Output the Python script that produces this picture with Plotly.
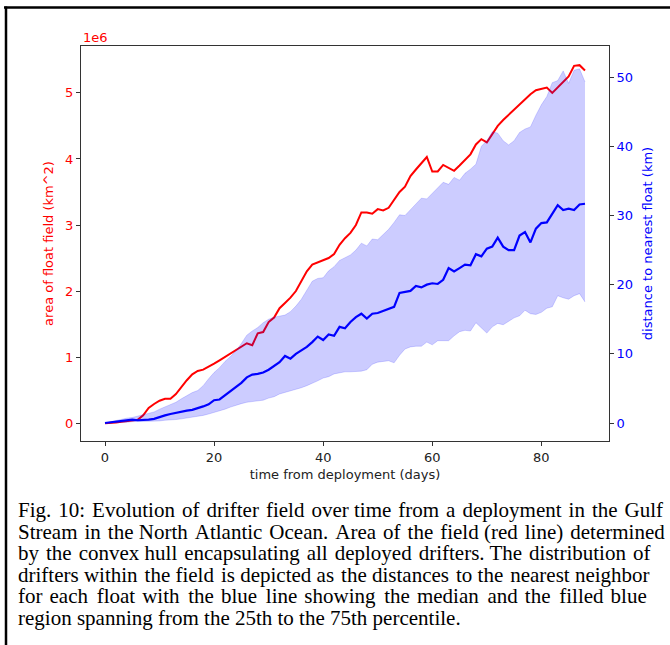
import plotly.graph_objects as go

# ---------------- data ----------------
days = list(range(0, 89))

area_1e6 = [0.00, 0.00, 0.01, 0.02, 0.03, 0.04, 0.05, 0.12, 0.23, 0.29,
            0.34, 0.37, 0.37, 0.44, 0.55, 0.65, 0.74, 0.79, 0.81, 0.85,
            0.90, 0.95, 1.00, 1.06, 1.10, 1.15, 1.21, 1.18, 1.36, 1.38,
            1.53, 1.60, 1.74, 1.82, 1.90, 2.00, 2.15, 2.30, 2.40, 2.43,
            2.46, 2.50, 2.56, 2.70, 2.80, 2.88, 3.00, 3.19, 3.19, 3.17,
            3.24, 3.22, 3.26, 3.38, 3.50, 3.58, 3.74, 3.84, 3.94, 4.03,
            3.81, 3.81, 3.91, 3.87, 3.82, 3.90, 3.98, 4.07, 4.22, 4.30,
            4.25, 4.38, 4.50, 4.59, 4.67, 4.75, 4.82, 4.90, 4.98, 5.04,
            5.06, 5.08, 5.00, 5.08, 5.16, 5.25, 5.41, 5.42, 5.34]

dist_median = [0.0, 0.1, 0.2, 0.3, 0.4, 0.5, 0.4, 0.4, 0.5, 0.6,
               0.9, 1.1, 1.3, 1.5, 1.7, 1.8, 1.9, 2.1, 2.4, 2.7,
               3.3, 3.4, 4.0, 4.5, 5.1, 5.8, 6.6, 7.0, 7.1, 7.3,
               7.7, 8.2, 8.8, 9.7, 9.3, 10.0, 10.5, 11.0, 11.7, 12.5,
               12.0, 12.8, 12.6, 13.9, 13.7, 14.6, 15.3, 15.8, 15.1, 15.8,
               15.9, 16.2, 16.5, 16.8, 18.8, 18.9, 19.1, 19.8, 19.6, 20.0,
               20.2, 20.1, 20.7, 22.4, 21.9, 22.4, 22.9, 22.8, 24.4, 24.1,
               25.2, 25.5, 26.8, 25.5, 25.0, 25.0, 27.1, 27.6, 26.1, 28.1,
               28.9, 29.0, 30.3, 31.5, 30.8, 31.0, 30.8, 31.6, 31.7]

dist_p75 = [0.0, 0.2, 0.4, 0.5, 0.7, 0.8, 1.0, 1.1, 1.3, 1.6,
            2.0, 2.3, 2.7, 3.0, 3.5, 4.0, 4.4, 4.7, 5.4, 6.4,
            7.3, 8.0, 8.9, 9.6, 10.4, 11.5, 12.7, 13.3, 13.8, 14.5,
            15.0, 15.3, 15.5, 15.6, 16.1, 16.9, 17.9, 19.3, 20.5, 20.9,
            21.0, 22.0, 22.6, 23.5, 23.9, 24.3, 25.0, 26.0, 25.6, 26.6,
            26.5, 27.2, 28.0, 29.0, 30.1, 30.0, 30.8, 31.7, 32.5, 32.4,
            33.2, 33.9, 34.8, 34.5, 35.5, 35.1, 36.1, 36.7, 37.4, 40.0,
            40.8, 42.1, 41.9, 40.8, 40.2, 40.8, 42.0, 42.5, 42.8, 44.5,
            46.0, 47.2, 49.2, 49.5, 50.9, 49.1, 51.0, 51.2, 49.3]

dist_p25 = [0.0, 0.0, 0.1, 0.1, 0.1, 0.2, 0.2, 0.2, 0.3, 0.3,
            0.3, 0.4, 0.4, 0.5, 0.6, 0.7, 0.8, 0.9, 1.1, 1.3,
            1.5, 1.8, 2.0, 2.3, 2.6, 2.8, 3.0, 3.1, 3.2, 3.3,
            3.6, 3.8, 4.2, 4.4, 4.7, 4.9, 5.1, 5.4, 5.7, 6.1,
            6.5, 6.7, 7.1, 7.3, 7.4, 7.4, 7.4, 7.5, 7.7, 8.5,
            8.8, 8.9, 9.0, 8.7, 9.8, 10.7, 11.0, 11.1, 11.1, 11.7,
            11.3, 11.9, 11.9, 11.9, 12.6, 13.2, 13.4, 13.3, 14.5, 13.8,
            13.0, 13.9, 14.4, 14.2, 14.7, 15.2, 15.5, 16.3, 15.8, 15.7,
            16.0, 16.6, 16.8, 18.4, 18.1, 17.9, 18.4, 18.7, 17.5]

x_ticks = [0, 20, 40, 60, 80]
left_ticks = [0, 1, 2, 3, 4, 5]
right_ticks = [0, 10, 20, 30, 40, 50]

caption_lines = [
    "Fig. 10: Evolution of drifter field over time from a deployment in the Gulf",
    "Stream in the North Atlantic Ocean. Area of the field (red line) determined",
    "by the convex hull encapsulating all deployed drifters. The distribution of",
    "drifters within the field is depicted as the distances to the nearest neighbor",
    "for each float with the blue line showing the median and the filled blue",
    "region spanning from the 25th to the 75th percentile.",
]
# extra hair spaces used to approximate the justified paragraph
caption_pad = [12, 10, 8, 5, 19, 0]

# ---------------- layout geometry ----------------
W, H = 670, 645
L, R, T, B = 81, 61, 46, 204
PW, PH = W - L - R, H - T - B


def px(xp):
    return (xp - L) / PW


def py(yp):
    return (H - B - yp) / PH


def justify(line, n_extra):
    words = line.split(" ")
    gaps = len(words) - 1
    if gaps <= 0 or n_extra <= 0:
        return line
    out = words[0]
    given = 0
    for i in range(1, len(words)):
        target = round(n_extra * i / gaps)
        k = target - given
        given = target
        out += " " + "\u200a" * k + words[i]
    return out


RED = "#ff0000"
BLUE = "#0000ff"
AX = "#333333"

fig = go.Figure()

fig.add_trace(go.Scatter(x=days, y=area_1e6, mode="lines",
                         line=dict(color=RED, width=2), yaxis="y",
                         showlegend=False, hoverinfo="skip"))

fig.add_trace(go.Scatter(x=days, y=dist_p25, mode="lines",
                         line=dict(color="rgba(0,0,255,0.2)", width=0.8),
                         yaxis="y2", showlegend=False, hoverinfo="skip"))
fig.add_trace(go.Scatter(x=days, y=dist_p75, mode="lines",
                         line=dict(color="rgba(0,0,255,0.2)", width=0.8),
                         fill="tonexty", fillcolor="rgba(0,0,255,0.2)",
                         yaxis="y2", showlegend=False, hoverinfo="skip"))
fig.add_trace(go.Scatter(x=days, y=dist_median, mode="lines",
                         line=dict(color=BLUE, width=2.2), yaxis="y2",
                         showlegend=False, hoverinfo="skip"))

tickfont = dict(family="DejaVu Sans", size=13)

fig.update_layout(
    width=W, height=H,
    margin=dict(l=L, r=R, t=T, b=B, pad=0),
    paper_bgcolor="white", plot_bgcolor="white",
    showlegend=False,
    xaxis=dict(range=[-4.4, 92.4], tickvals=x_ticks, ticks="outside",
               ticklen=4, tickcolor=AX, showline=True, linecolor=AX,
               linewidth=1, mirror=True, showgrid=False, zeroline=False,
               tickfont=dict(tickfont, color="#222222"),
               title=dict(text="time from deployment (days)",
                          font=dict(family="DejaVu Sans", size=13,
                                    color="#222222"), standoff=6)),
    yaxis=dict(range=[-0.27, 5.71], tickvals=left_ticks, ticks="outside",
               ticklen=4, tickcolor=AX, showline=True, linecolor=AX,
               linewidth=1, showgrid=False, zeroline=False,
               tickfont=dict(tickfont, color=RED),
               title=dict(text="area of float field (km^2)",
                          font=dict(family="DejaVu Sans", size=13,
                                    color=RED), standoff=8)),
    yaxis2=dict(range=[-2.6, 54.5], tickvals=right_ticks, ticks="outside",
                ticklen=4, tickcolor=AX, showline=True, linecolor=AX,
                linewidth=1, overlaying="y", side="right", showgrid=False,
                zeroline=False, tickfont=dict(tickfont, color=BLUE),
                title=dict(text="distance to nearest float (km)",
                           font=dict(family="DejaVu Sans", size=13,
                                     color=BLUE), standoff=10)),
)

annotations = [
    dict(text="1e6", xref="paper", yref="paper", x=px(81), y=py(38),
         xanchor="left", yanchor="middle", showarrow=False,
         font=dict(family="DejaVu Sans", size=13, color=RED)),
]
cap_y = [510, 531.5, 553, 574.5, 596, 617.5]
for line, pad, yc in zip(caption_lines, caption_pad, cap_y):
    annotations.append(dict(text=justify(line, pad), xref="paper",
                            yref="paper", x=px(16), y=py(yc),
                            xanchor="left", yanchor="middle",
                            showarrow=False,
                            font=dict(family="Liberation Serif", size=21,
                                      color="black")))
fig.update_layout(annotations=annotations)

# page frame (top and left border of the cropped figure)
fig.add_shape(type="line", xref="paper", yref="paper",
              x0=px(4), x1=px(672), y0=py(7.5), y1=py(7.5),
              line=dict(color="black", width=2.5))
fig.add_shape(type="line", xref="paper", yref="paper",
              x0=px(6), x1=px(6), y0=py(6.5), y1=py(650),
              line=dict(color="black", width=2.5))

fig.write_html("out.html")
